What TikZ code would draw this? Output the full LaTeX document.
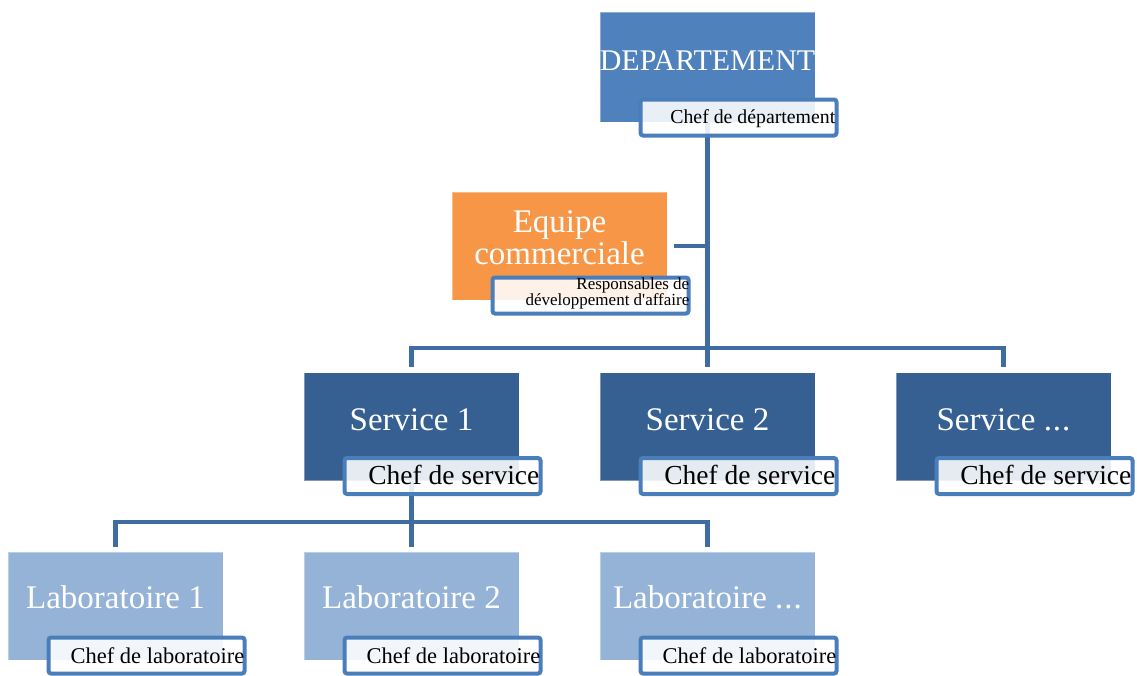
\documentclass[tikz,border=0pt]{standalone}
\usepackage{fontspec}
\setmainfont{Liberation Serif}
\definecolor{deptc}{HTML}{4F81BD}
\definecolor{orangec}{HTML}{F79646}
\definecolor{svcc}{HTML}{376092}
\definecolor{labc}{HTML}{95B3D7}
\definecolor{connc}{HTML}{3F6CA2}
\definecolor{lblc}{HTML}{4A7EBB}
\begin{document}
\begin{tikzpicture}[x=1pt,y=-1pt,
  box/.style={minimum width=215pt, minimum height=108pt, inner sep=0pt, draw=white, draw opacity=0.35, line width=1pt},
  lbl/.style={draw=lblc, line width=4pt, rounded corners=2.5pt, fill=white, fill opacity=0.88, minimum width=196pt, minimum height=36pt, inner sep=0pt, anchor=south east},
  bigtxt/.style={text=white, inner sep=0pt, font=\fontsize{33}{32}\selectfont, align=center},
  conn/.style={draw=connc, line width=4.5pt},
  lbltxt/.style={text=black, inner sep=0pt, anchor=base east}
]
\useasboundingbox (0,0) rectangle (1137,675);

% coordinates of bars
\coordinate (b1) at (707.5,348);
\coordinate (b2) at (411.5,522);

% boxes (positions)
\path (707.5,67) node[box, fill=deptc, minimum height=110pt] (dept) {};
\path (559.5,246) node[box, fill=orangec] (eq) {};
\path (411.5,426.5) node[box, fill=svcc] (s1) {};
\path (707.5,426.5) node[box, fill=svcc] (s2) {};
\path (1003.5,426.5) node[box, fill=svcc] (s3) {};
\path (115.5,606) node[box, fill=labc] (l1) {};
\path (411.5,606) node[box, fill=labc] (l2) {};
\path (707.5,606) node[box, fill=labc] (l3) {};

% connectors
\draw[conn] (dept.south) -- ([yshift=5pt]s2.north);
\draw[conn] ([xshift=6pt]eq.east) -- (eq.east -| dept.south);
\draw[conn] ([yshift=5pt]s1.north) -- (s1.north |- b1) -- (s3.north |- b1) -- ([yshift=5pt]s3.north);
\draw[conn] (s1.south) -- (b2);
\draw[conn] ([yshift=5pt]l1.north) -- (l1.north |- b2) -- (l3.north |- b2) -- ([yshift=5pt]l3.north);
\draw[conn] (b2) -- ([yshift=5pt]l2.north);

% box texts
\node[bigtxt, anchor=base, font=\fontsize{30}{32}\selectfont] (deptt) at ([yshift=-3pt]dept.center) {DEPARTEMENT};
\node[bigtxt] (eqt) at ([yshift=8pt]eq.center) {Equipe\\commerciale};
\node[bigtxt, anchor=base] (s1t) at ([yshift=-3.5pt]s1.center) {Service 1};
\node[bigtxt, anchor=base] (s2t) at ([yshift=-3.5pt]s2.center) {Service 2};
\node[bigtxt, anchor=base] (s3t) at ([yshift=-3.5pt]s3.center) {Service .\kern1pt.\kern1pt.};
\node[bigtxt, anchor=base] (l1t) at ([yshift=-2pt]l1.center) {Laboratoire 1};
\node[bigtxt, anchor=base] (l2t) at ([yshift=-2pt]l2.center) {Laboratoire 2};
\node[bigtxt, anchor=base] (l3t) at ([yshift=-2pt]l3.center) {Laboratoire .\kern1pt.\kern1pt.};

% labels
\node[lbl] (dl) at ([xshift=23pt,yshift=-15pt]dept.south east) {};
\node[lbl] (el) at ([xshift=23pt,yshift=-15pt]eq.south east) {};
\node[lbl] (s1l) at ([xshift=23pt,yshift=-15pt]s1.south east) {};
\node[lbl] (s2l) at ([xshift=23pt,yshift=-15pt]s2.south east) {};
\node[lbl] (s3l) at ([xshift=23pt,yshift=-15pt]s3.south east) {};
\node[lbl] (l1l) at ([xshift=23pt,yshift=-15pt]l1.south east) {};
\node[lbl] (l2l) at ([xshift=23pt,yshift=-15pt]l2.south east) {};
\node[lbl] (l3l) at ([xshift=23pt,yshift=-15pt]l3.south east) {};

% label texts
\node[lbltxt, font=\fontsize{19.8}{22}\selectfont] (dlt) at ([xshift=-3pt,yshift=-6pt]dl.east) {Chef de département};
\node[lbltxt, anchor=east, align=right, font=\fontsize{17}{16.6}\selectfont] (elt) at ([xshift=-1pt,yshift=2pt]el.east) {Responsables de\\développement d\textquotesingle affaire};
\foreach \n in {s1l,s2l,s3l}{
  \node[lbltxt, font=\fontsize{27.5}{30}\selectfont] (\n t) at ([xshift=-3pt,yshift=-8pt]\n.east) {Chef de service};
}
\foreach \n in {l1l,l2l,l3l}{
  \node[lbltxt, font=\fontsize{22.5}{26}\selectfont] (\n t) at ([xshift=-2pt,yshift=-8pt]\n.east) {Chef de laboratoire};
}
\end{tikzpicture}
\end{document}
